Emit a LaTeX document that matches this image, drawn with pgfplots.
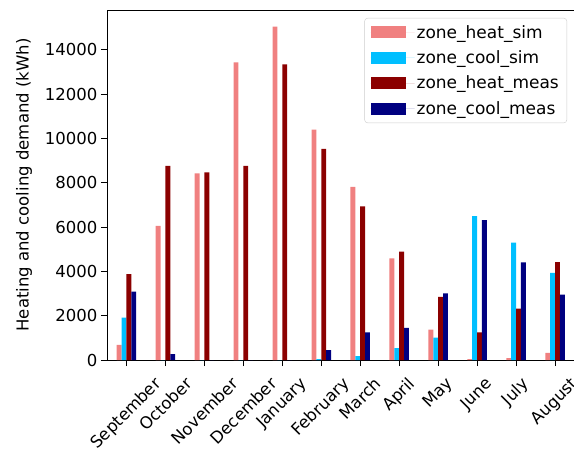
\documentclass[border=0pt]{standalone}
\usepackage{graphicx}
\usepackage{fontspec}
\setmainfont{DejaVu Sans}
\usepackage{pgfplots}
\pgfplotsset{compat=1.18}
\definecolor{hsim}{RGB}{240,128,128}
\definecolor{csim}{RGB}{0,191,255}
\definecolor{hmeas}{RGB}{139,0,0}
\definecolor{cmeas}{RGB}{0,0,128}
\newcommand{\fs}{\fontsize{16.5}{19.8}\selectfont}
\newcommand{\fl}{\fontsize{17}{20.4}\selectfont}
\begin{document}
\begin{tikzpicture}
\begin{axis}[
  at={(107pt,88pt)}, anchor=south west,
  scale only axis, width=467.5pt, height=350pt,
  xmin=-0.5, xmax=11.5, ymin=0, ymax=15800,
  ybar,
  axis line style={line width=0.9pt},
  tick align=outside, tick pos=left,
  major tick length=6pt,
  every tick/.style={line width=0.9pt, black},
  xtick={0,...,11},
  xticklabels={\rotatebox{45}{September},\rotatebox{45}{October},\rotatebox{45}{November},\rotatebox{45}{December},\rotatebox{45}{January},\rotatebox{45}{February},\rotatebox{45}{March},\rotatebox{45}{April},\rotatebox{45}{May},\rotatebox{45}{June},\rotatebox{45}{July},\rotatebox{45}{August}},
  xticklabel style={anchor=north, inner sep=0pt, yshift=-10pt, font=\fs},
  ytick={0,2000,...,14000},
  scaled y ticks=false,
  yticklabel style={font=\fs, /pgf/number format/1000 sep={}, /pgf/number format/assume math mode=true},
  ylabel={Heating and cooling demand (kWh)},
  ylabel style={font=\fs, yshift=6pt},
  legend cell align=left,
  legend style={at={(1,1)}, anchor=north east, xshift=-7.5pt, yshift=-8pt,
    draw=black!20, rounded corners=3pt, fill=white,
    font=\fl, row sep=7pt, inner xsep=6pt, inner ysep=5pt},
  legend image code/.code={\fill[#1, sharp corners] (0pt,-6pt) rectangle (35pt,6pt); \path (0pt,0pt) -- (44pt,0pt);},
]
\addplot[fill=hsim, draw=none, bar width=0.125, bar shift=-0.1875] coordinates {
(0,680) (1,6050) (2,8430) (3,13440) (4,15050) (5,10400) (6,7810) (7,4590) (8,1370) (9,40) (10,80) (11,320)};
\addlegendentry{zone\_heat\_sim}
\addplot[fill=csim, draw=none, bar width=0.125, bar shift=-0.0625] coordinates {
(0,1910) (1,0) (2,0) (3,0) (4,0) (5,40) (6,180) (7,540) (8,1010) (9,6490) (10,5300) (11,3930)};
\addlegendentry{zone\_cool\_sim}
\addplot[fill=hmeas, draw=none, bar width=0.125, bar shift=0.0625] coordinates {
(0,3880) (1,8760) (2,8470) (3,8760) (4,13340) (5,9530) (6,6940) (7,4890) (8,2850) (9,1250) (10,2320) (11,4420)};
\addlegendentry{zone\_heat\_meas}
\addplot[fill=cmeas, draw=none, bar width=0.125, bar shift=0.1875] coordinates {
(0,3090) (1,270) (2,0) (3,0) (4,0) (5,450) (6,1250) (7,1450) (8,3010) (9,6310) (10,4410) (11,2950)};
\addlegendentry{zone\_cool\_meas}
\end{axis}
\pgfresetboundingbox
\path[use as bounding box] (0,0) rectangle (574pt,448pt);
\end{tikzpicture}
\end{document}
